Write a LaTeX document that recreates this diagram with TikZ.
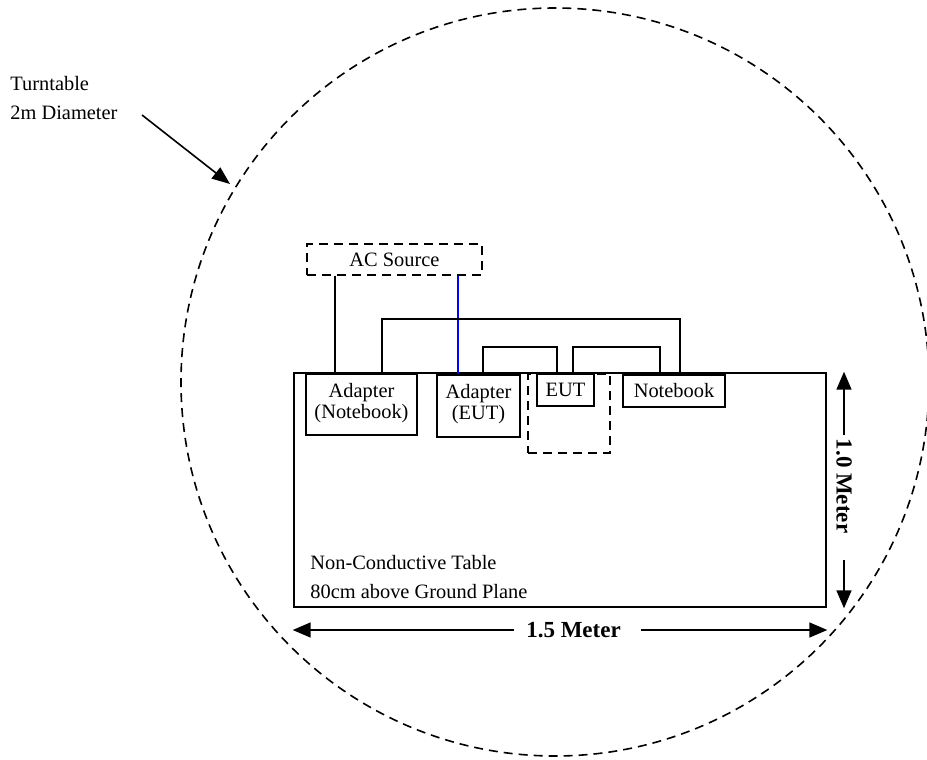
\documentclass[tikz,border=0pt]{standalone}
\usepackage{fontspec}
\setmainfont{Liberation Serif}
\usetikzlibrary{arrows.meta}
\begin{document}
\begin{tikzpicture}[x=0.5pt,y=-0.5pt,
  txt/.style={font=\fontsize{10.2}{10.5}\selectfont, inner sep=0pt, align=center},
  boxr/.style={draw, line width=0.65pt, inner sep=0pt, font=\fontsize{10.2}{10.5}\selectfont},
  dsh/.style={dash pattern=on 4.5pt off 3pt},
  wire/.style={line width=1pt},
  dimarrow/.style={line width=0.8pt, -{Triangle[length=9pt,width=7.5pt]}},
  dimtext/.style={font=\fontsize{11.5}{12}\selectfont\bfseries, inner sep=0pt}
]
\useasboundingbox (0,0) rectangle (927,760);
% turntable
\draw[dsh, line width=0.8pt] (555,382) circle[radius=374];
% table
\node[draw, line width=1.3pt, minimum width=266pt, minimum height=117pt, inner sep=0pt] (table) at (560,490) {};
\node[font=\fontsize{10.2}{14.5}\selectfont, align=left, anchor=west, inner sep=0pt] (tabtxt) at (310,577) {Non-Conductive Table\\80cm above Ground Plane};
% AC source
\node[boxr, dsh, minimum width=87.5pt, minimum height=15.5pt] (acsrc) at (394.5,259.5) {AC Source};
% boxes
\node[boxr, minimum width=55.5pt, minimum height=30.5pt] (adnb) at (361.5,404.5) {};
\node[txt, anchor=north] (adnbt) at (361.5,383) {Adapter\\(Notebook)};
\node[boxr, minimum width=41.5pt, minimum height=31pt] (adeut) at (478.5,406) {};
\node[txt, anchor=north] (adeutt) at (478.5,384) {Adapter\\(EUT)};
\node[boxr, dsh, line width=0.9pt, minimum width=41pt, minimum height=39.5pt] (eutarea) at (569,413.5) {};
\node[boxr, fill=white, minimum width=28.5pt, minimum height=16pt] (eut) at (565.5,390) {EUT};
\node[boxr, minimum width=51pt, minimum height=16pt] (nb) at (674,391) {Notebook};
% wires
\coordinate (w1) at (335,0);
\coordinate (w2) at (458,0);
\draw[wire] (acsrc.south -| w1) -- (adnb.north -| w1);
\draw[blue, line width=0.55pt] (acsrc.south -| w2) -- (adeut.north -| w2);
\coordinate (bL) at (382,319);
\coordinate (bR) at (680,319);
\draw[wire] (adnb.north -| bL) -- (bL) -- (bR) -- (nb.north -| bR);
\coordinate (s1L) at (483,347);
\coordinate (s1R) at (557,347);
\draw[wire] (adeut.north -| s1L) -- (s1L) -- (s1R) -- (eut.north -| s1R);
\coordinate (s2L) at (573,347);
\coordinate (s2R) at (660,347);
\draw[wire] (eut.north -| s2L) -- (s2L) -- (s2R) -- (nb.north -| s2R);
% turntable label
\node[font=\fontsize{10.2}{14.5}\selectfont, align=left, anchor=west, inner sep=0pt] (tt) at (10,98) {Turntable\\2m Diameter};
\coordinate (ttA) at (142,115);
\coordinate (ttB) at (230,184);
\draw[line width=0.8pt, -{Triangle[length=9pt,width=7pt]}] (ttA) -- (ttB);
% height dimension
\coordinate (hx) at (844,0);
\node[dimtext, rotate=-90, inner xsep=1.5pt] (hdim) at (844,486) {1.0 Meter};
\coordinate (hB) at (844,560);
\draw[dimarrow] (hdim.west) -- (table.north -| hx);
\draw[dimarrow] (hB) -- (table.south -| hx);
% width dimension
\coordinate (wy) at (0,630);
\node[dimtext] (wdim) at (573.5,630) {1.5 Meter};
\draw[dimarrow] ([xshift=-6pt]wdim.west) -- (table.west |- wy);
\draw[dimarrow] ([xshift=10pt]wdim.east) -- (table.east |- wy);
\end{tikzpicture}
\end{document}
